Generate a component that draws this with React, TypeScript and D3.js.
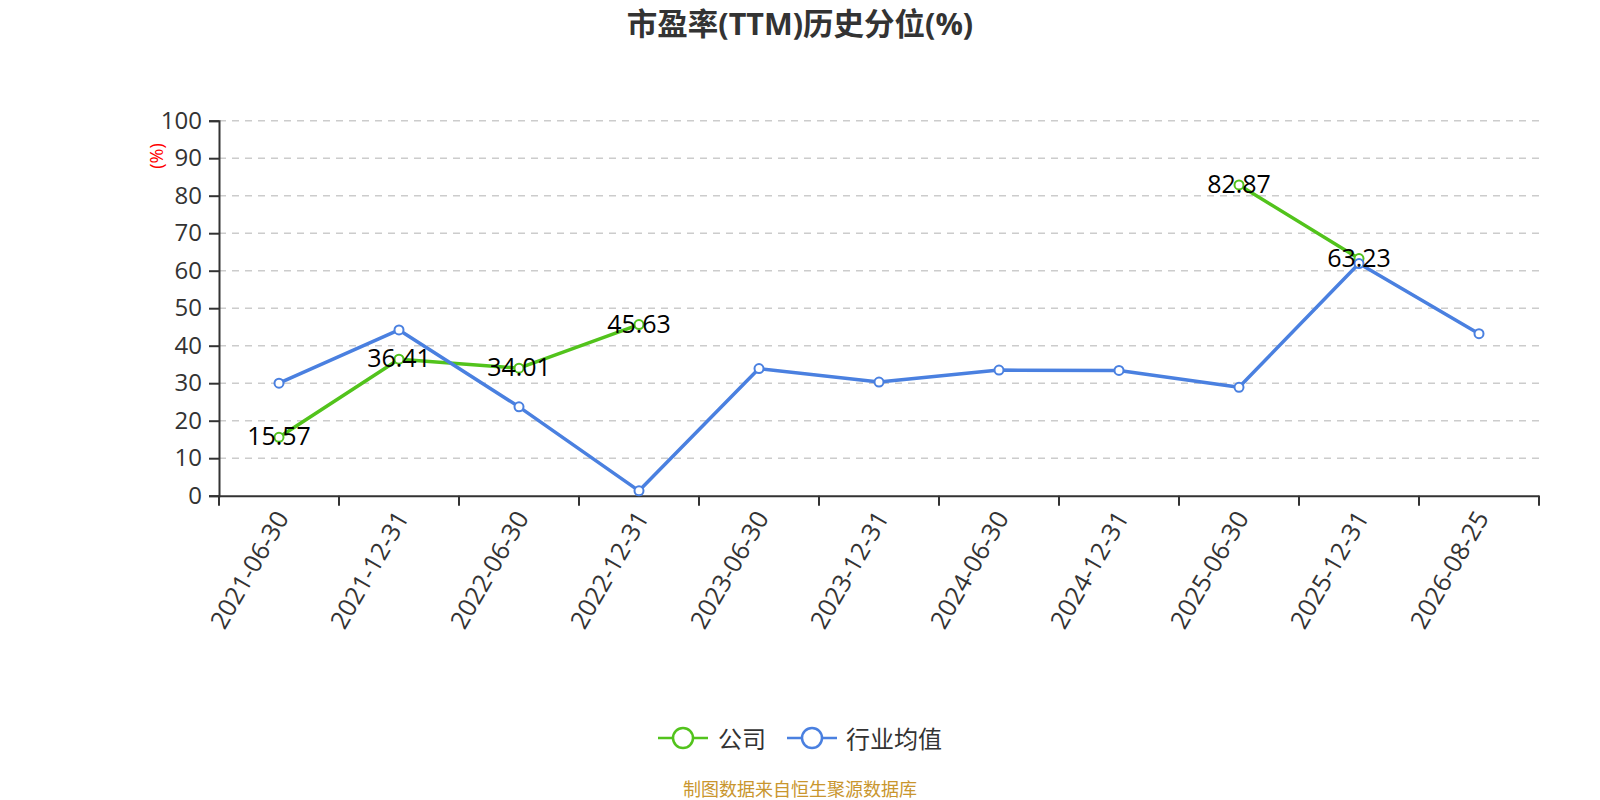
import { useEffect, useRef } from 'react'
import * as d3 from 'd3'

const categories = [
  '2021-06-30', '2021-12-31', '2022-06-30', '2022-12-31', '2023-06-30', '2023-12-31',
  '2024-06-30', '2024-12-31', '2025-06-30', '2025-12-31', '2026-08-25',
]
const companyValues: (number | null)[] = [15.57, 36.41, 34.01, 45.63, null, null, null, null, 82.87, 63.23, null]
const industryValues: (number | null)[] = [30.0, 44.2, 23.7, 1.3, 33.9, 30.3, 33.5, 33.4, 28.9, 61.9, 43.2]
const yTicks = [0, 10, 20, 30, 40, 50, 60, 70, 80, 90, 100]
const seriesNames = ['公司', '行业均值']

const GREEN = '#52c31c'
const BLUE = '#4a80e0'
const FONT = '"Open Sans", "Noto Sans CJK SC", sans-serif'

export default function App() {
  const svgRef = useRef<SVGSVGElement>(null)

  useEffect(() => {
    if (!svgRef.current) return
    const width = 1600
    const height = 800
    const margin = { top: 120.7, bottom: 304.3, left: 219, right: 61 }

    const svg = d3.select(svgRef.current)
    svg.selectAll('*').remove()

    const x = d3.scaleBand<string>()
      .domain(categories)
      .range([margin.left, width - margin.right])
    const cx = (c: string) => (x(c) || 0) + x.bandwidth() / 2

    const y = d3.scaleLinear()
      .domain([0, 100])
      .range([height - margin.bottom, margin.top])

    // title
    svg.append('text')
      .attr('x', width / 2).attr('y', 23)
      .attr('text-anchor', 'middle').attr('dominant-baseline', 'central')
      .attr('fill', '#333').attr('font-weight', 'bold')
      .style('font-size', '30.5px')
      .text('市盈率(TTM)历史分位(%)')

    // grid
    svg.append('g')
      .selectAll('line')
      .data(yTicks.filter(t => t > 0))
      .join('line')
      .attr('x1', margin.left).attr('x2', width - margin.right)
      .attr('y1', d => y(d)).attr('y2', d => y(d))
      .attr('stroke', '#ccc').attr('stroke-width', 1.5)
      .attr('stroke-dasharray', '7,6')

    // y axis
    const yAxis = d3.axisLeft(y)
      .tickValues(yTicks)
      .tickSize(10)
      .tickPadding(7)
    const gy = svg.append('g')
      .attr('transform', `translate(${margin.left},0)`)
      .call(yAxis)
    gy.select('.domain').attr('stroke', '#333').attr('stroke-width', 2)
    gy.selectAll('.tick line').attr('stroke', '#333').attr('stroke-width', 2)
    gy.selectAll('.tick text')
      .attr('fill', '#333')
      .style('font-size', '24px').style('font-family', FONT)

    svg.append('text')
      .attr('transform', `translate(156,156) rotate(-90)`)
      .attr('text-anchor', 'middle').attr('dominant-baseline', 'central')
      .attr('fill', '#ff0000')
      .style('font-size', '18px')
      .text('(%)')

    // x axis
    const xAxis = d3.axisBottom(x).tickSize(0).tickFormat(() => '')
    const gx = svg.append('g')
      .attr('transform', `translate(0,${y(0)})`)
      .call(xAxis)
    gx.select('.domain').attr('stroke', '#333').attr('stroke-width', 2)

    const boundaries = categories.map(c => x(c) || 0).concat([width - margin.right])
    gx.append('g').selectAll('line')
      .data(boundaries)
      .join('line')
      .attr('x1', d => d).attr('x2', d => d)
      .attr('y1', 0).attr('y2', 10)
      .attr('stroke', '#333').attr('stroke-width', 2)

    svg.append('g').selectAll('text')
      .data(categories)
      .join('text')
      .attr('transform', d => `translate(${cx(d) + 2},${y(0) + 17}) rotate(-60)`)
      .attr('text-anchor', 'end').attr('dominant-baseline', 'central')
      .attr('fill', '#333')
      .style('font-size', '25px')
      .text(d => d)

    const line = d3.line<number | null>()
      .defined(d => d != null)
      .x((_, i) => cx(categories[i]))
      .y(d => y(d as number))

    const drawSeries = (values: (number | null)[], color: string) => {
      svg.append('path')
        .datum(values)
        .attr('d', line)
        .attr('fill', 'none')
        .attr('stroke', color).attr('stroke-width', 3.5)
        .attr('stroke-linejoin', 'round')
      svg.append('g').selectAll('circle')
        .data(values.map((v, i) => ({ v, c: categories[i] })).filter(d => d.v != null))
        .join('circle')
        .attr('cx', d => cx(d.c)).attr('cy', d => y(d.v as number))
        .attr('r', 4.5)
        .attr('fill', '#fff')
        .attr('stroke', color).attr('stroke-width', 2)
    }
    drawSeries(companyValues, GREEN)
    drawSeries(industryValues, BLUE)

    // data labels for company
    svg.append('g').selectAll('text')
      .data(companyValues.map((v, i) => ({ v, c: categories[i] })).filter(d => d.v != null))
      .join('text')
      .attr('x', d => cx(d.c)).attr('y', d => y(d.v as number) - 2)
      .attr('text-anchor', 'middle').attr('dominant-baseline', 'central')
      .attr('fill', '#000')
      .style('font-size', '25px')
      .text(d => (d.v as number).toFixed(2))

    // legend
    const legendItems = [
      { name: seriesNames[0], color: GREEN, x0: 658, tx: 718 },
      { name: seriesNames[1], color: BLUE, x0: 787, tx: 846 },
    ]
    const legendY = 738
    legendItems.forEach(item => {
      svg.append('line')
        .attr('x1', item.x0).attr('x2', item.x0 + 50)
        .attr('y1', legendY).attr('y2', legendY)
        .attr('stroke', item.color).attr('stroke-width', 2.5)
      svg.append('circle')
        .attr('cx', item.x0 + 25).attr('cy', legendY)
        .attr('r', 10)
        .attr('fill', '#fff')
        .attr('stroke', item.color).attr('stroke-width', 2.5)
      svg.append('text')
        .attr('x', item.tx).attr('y', legendY)
        .attr('dominant-baseline', 'central')
        .attr('fill', '#333')
        .style('font-size', '24px')
        .text(item.name)
    })

    // footer
    svg.append('text')
      .attr('x', width / 2).attr('y', 789)
      .attr('text-anchor', 'middle').attr('dominant-baseline', 'central')
      .attr('fill', '#c9962e')
      .style('font-size', '18px')
      .text('制图数据来自恒生聚源数据库')
  }, [])

  return (
    <div style={{ position: 'fixed', left: 0, top: 0, width: 1600, height: 800, background: '#fff' }}>
      <svg ref={svgRef} width={1600} height={800} style={{ fontFamily: FONT, display: 'block' }} />
    </div>
  )
}
